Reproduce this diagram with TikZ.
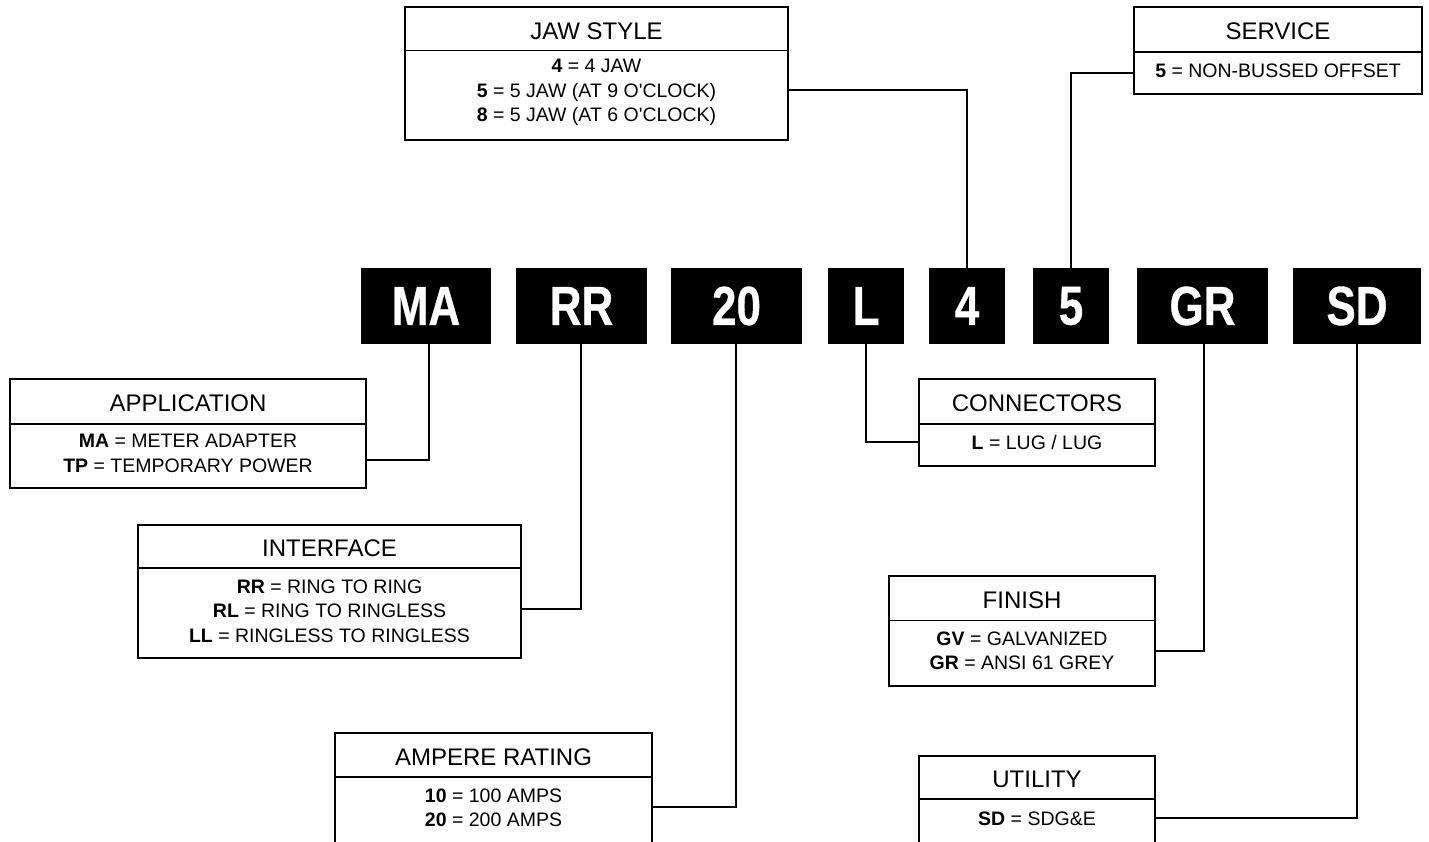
\documentclass[tikz,border=0pt]{standalone}
\usepackage{fontspec}
\setmainfont{Liberation Sans}[Ligatures=TeXOff]
\newfontfamily\codefont{Liberation Sans}[FakeStretch=0.8,FakeBold=0.6]
\usetikzlibrary{fit,calc}
\tikzset{
 boxline/.style={line width=2.8pt},
 divline/.style={line width=1.7pt},
 conn/.style={line width=2.8pt},
 codebox/.style={fill=black,text=white,inner sep=0pt,minimum height=76pt,font=\codefont\bfseries\fontsize{55}{55}\selectfont},
 titletext/.style={font=\fontsize{24}{28}\selectfont,inner sep=0pt},
 bodytext/.style={font=\fontsize{19.5}{24.5}\selectfont,align=center,inner sep=0pt},
}
% name, x1, y1, x2, y2, ydiv, title, body, body centre y
\newcommand\descbox[9]{%
 \node[boxline,draw,fit={(#2,#3) (#4,#5)},inner sep=0pt] (#1) {};
 \draw[divline] (#2,#6) -- (#4,#6);
 \node[titletext] (#1t) at ($(#2,#3)!0.5!(#4,#6)+(0,2)$) {#7};
 \node[bodytext] (#1b) at ($(#2,#9)!0.5!(#4,#9)$) {#8};
}
\begin{document}
\begin{tikzpicture}[x=1pt,y=-1pt]
\useasboundingbox (0,0) rectangle (1429,842);
\fill[white] (0,0) rectangle (1429,842);
% code boxes
\node[codebox,minimum width=130pt] (MA) at (426,306) {MA};
\node[codebox,minimum width=131pt] (RR) at (581.5,306) {RR};
\node[codebox,minimum width=131pt] (N20) at (736.5,306) {20};
\node[codebox,minimum width=76pt] (L) at (866,306) {L};
\node[codebox,minimum width=76pt] (N4) at (967,306) {4};
\node[codebox,minimum width=76pt] (N5) at (1071,306) {5};
\node[codebox,minimum width=131pt] (GR) at (1202.5,306) {GR};
\node[codebox,minimum width=128pt] (SD) at (1357,306) {SD};
% description boxes
\descbox{app}{10}{379}{366}{488}{424}{APPLICATION}{\textbf{MA} = METER ADAPTER\\\textbf{TP} = TEMPORARY POWER}{453.5}
\descbox{int}{138}{525}{521}{658}{568}{INTERFACE}{\textbf{RR} = RING TO RING\\\textbf{RL} = RING TO RINGLESS\\\textbf{LL} = RINGLESS TO RINGLESS}{611}
\descbox{amp}{335}{733}{652}{870}{777}{AMPERE RATING}{\textbf{10} = 100 AMPS\\\textbf{20} = 200 AMPS}{808}
\descbox{con}{919}{379}{1155}{466}{424}{CONNECTORS}{\textbf{L} = LUG / LUG}{443}
\descbox{jaw}{405}{7}{788}{140}{50.5}{JAW STYLE}{\textbf{4} = 4 JAW\\\textbf{5} = 5 JAW (AT 9 O'CLOCK)\\\textbf{8} = 5 JAW (AT 6 O'CLOCK)}{92.5}
\descbox{srv}{1134}{7}{1422}{94}{52}{SERVICE}{\textbf{5} = NON-BUSSED OFFSET}{71}
\descbox{fin}{889}{576}{1155}{686}{620.5}{FINISH}{\textbf{GV} = GALVANIZED\\\textbf{GR} = ANSI 61 GREY}{651}
\descbox{utl}{919}{756}{1155}{870}{799}{UTILITY}{\textbf{SD} = SDG\&E}{819}
% connectors
\coordinate (kMA) at (429,460);
\coordinate (kRR) at (581,609);
\coordinate (k20) at (736,807);
\coordinate (kL) at (866,442);
\coordinate (k4) at (967,90);
\coordinate (k5) at (1071,73);
\coordinate (kGR) at (1204,651);
\coordinate (kSD) at (1357,818);
\draw[conn] (MA.south -| kMA) -- (kMA) -- (app.east |- kMA);
\draw[conn] (RR.south -| kRR) -- (kRR) -- (int.east |- kRR);
\draw[conn] (N20.south -| k20) -- (k20) -- (amp.east |- k20);
\draw[conn] (L.south -| kL) -- (kL) -- (con.west |- kL);
\draw[conn] (N4.north -| k4) -- (k4) -- (jaw.east |- k4);
\draw[conn] (N5.north -| k5) -- (k5) -- (srv.west |- k5);
\draw[conn] (GR.south -| kGR) -- (kGR) -- (fin.east |- kGR);
\draw[conn] (SD.south -| kSD) -- (kSD) -- (utl.east |- kSD);
\end{tikzpicture}
\end{document}
